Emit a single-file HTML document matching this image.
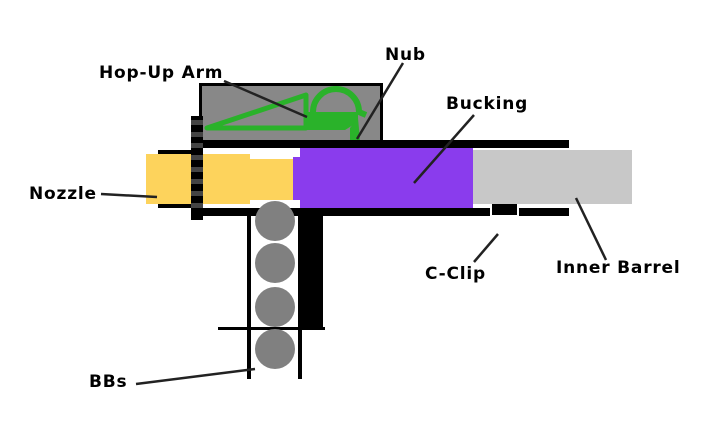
<!DOCTYPE html>
<html><head><style>body{margin:0;background:#fff}svg{display:block}text{font-family:"DejaVu Sans",Verdana,sans-serif;font-weight:bold;font-size:17px;letter-spacing:0.8px;fill:#000}</style></head>
<body>
<svg width="709" height="425" viewBox="0 0 709 425">
<rect x="200.5" y="84.5" width="181" height="58" fill="#888" stroke="#000" stroke-width="3"/>
<path d="M207 128 L306 95 L306 128 Z" fill="none" stroke="#2ab22a" stroke-width="5" stroke-linejoin="round"/>
<path d="M304 112 L304 130 L345 130 L358 122 L358 112 Z" fill="#2ab22a"/>
<path d="M313 112 A21 21 0 0 1 359 112 L366 115" fill="none" stroke="#2ab22a" stroke-width="6"/>
<path d="M350 128 L358 118 L360 140 L350 140Z" fill="#2ab22a"/>
<circle cx="354" cy="145" r="5" fill="#2ab22a"/><circle cx="354" cy="145" r="2.5" fill="#000"/>
<rect x="203" y="140" width="366" height="8" fill="#000"/>
<rect x="158" y="150" width="45" height="4" fill="#000"/>
<rect x="158" y="204" width="45" height="4" fill="#000"/>
<rect x="146" y="154" width="45" height="50" fill="#fdd35c"/>
<rect x="203" y="154" width="47" height="50" fill="#fdd35c"/>
<rect x="250" y="159" width="45" height="41" fill="#fdd35c"/>
<rect x="293" y="157" width="10" height="43" fill="#8a3ced"/>
<rect x="300" y="148" width="173" height="60" fill="#8a3ced"/>
<rect x="473" y="150" width="159" height="54" fill="#c8c8c8"/>
<rect x="203" y="208" width="287" height="8" fill="#000"/>
<rect x="492" y="204" width="25" height="11" fill="#000"/>
<rect x="519" y="208" width="50" height="8" fill="#000"/>
<rect x="191" y="116" width="12" height="104" fill="#000"/>
<g fill="#444">
<rect x="191" y="120" width="12" height="5"/><rect x="191" y="132" width="12" height="5"/><rect x="191" y="143" width="12" height="5"/><rect x="191" y="155" width="12" height="5"/><rect x="191" y="167" width="12" height="5"/><rect x="191" y="179" width="12" height="5"/><rect x="191" y="191" width="12" height="5"/><rect x="191" y="203" width="12" height="5"/>
</g>
<rect x="247" y="208" width="4" height="171" fill="#000"/>
<rect x="298" y="208" width="25" height="121" fill="#000"/>
<rect x="298" y="328" width="4" height="51" fill="#000"/>
<rect x="218" y="327" width="107" height="3" fill="#000"/>
<rect x="251" y="200" width="47" height="8" fill="#fff"/>
<g fill="#808080"><circle cx="275" cy="221" r="20"/><circle cx="275" cy="263" r="20"/><circle cx="275" cy="307" r="20"/><circle cx="275" cy="349" r="20"/></g>
<g stroke="#222" stroke-width="2.5" fill="none">
<line x1="224" y1="81" x2="307" y2="117"/>
<line x1="403" y1="63" x2="357" y2="139"/>
<line x1="474" y1="115" x2="414" y2="183"/>
<line x1="101" y1="194" x2="157" y2="197"/>
<line x1="474" y1="262" x2="498" y2="234"/>
<line x1="606" y1="260" x2="576" y2="198"/>
<line x1="136" y1="384" x2="255" y2="369"/>
</g>
<text x="99" y="78">Hop-Up Arm</text>
<text x="385" y="60">Nub</text>
<text x="446" y="109">Bucking</text>
<text x="29" y="199">Nozzle</text>
<text x="425" y="279">C-Clip</text>
<text x="556" y="273">Inner Barrel</text>
<text x="89" y="387">BBs</text>
</svg>
</body></html>
